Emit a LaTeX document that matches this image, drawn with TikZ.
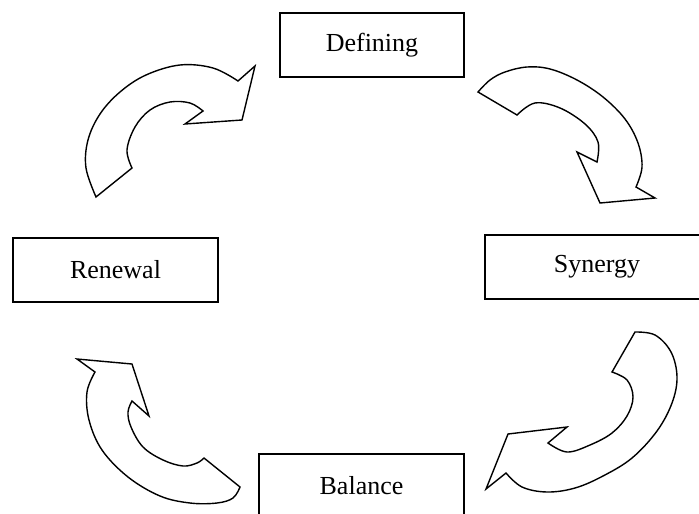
\documentclass[tikz,border=0pt]{standalone}
\usepackage{fontspec}
\setmainfont{Liberation Serif}
\usetikzlibrary{positioning}
\tikzset{
	stage/.style={draw, line width=1pt, inner sep=0pt, minimum height=32pt, font=\fontsize{13}{15}\selectfont},
	bentarrow/.style={draw, line width=0.7pt, line join=miter}
}
\begin{document}
\begin{tikzpicture}[x=0.5pt, y=-0.5pt]
		\clip (0,0) rectangle (699,513);
		
		% Stages of the cycle
		\node[stage, minimum width=92pt] (defining) at (372,45) {Defining};
		\node[stage, minimum width=112pt] (synergy) at (597,266.5) {Synergy};
		\node[stage, minimum width=102.5pt] (balance) at (361.5,486) {Balance};
		\node[stage, minimum width=102.5pt] (renewal) at (115.5,269.5) {Renewal};
		
		% Renewal to Defining
		\draw[bentarrow] plot[smooth, tension=0.6] coordinates {(96,197) (86,168) (88,140) (100,114) (120,92) (146,75) (180,65) (213,68) (238,81)}
			-- (255,66) -- (242,120) -- (185,124)
			-- plot[smooth, tension=0.6] coordinates {(203,111) (190,103) (170,102) (150,110) (135,127) (127,150) (132,168)} -- cycle;
		
		% Defining to Synergy
		\draw[bentarrow] plot[smooth, tension=0.6] coordinates {(478,92) (490,80) (505,72) (527,67) (550,69) (577,80) (603,97) (625,119) (638,143) (642,167) (636,187)}
			-- (655,198) -- (600,203) -- (577,152)
			-- plot[smooth, tension=0.6] coordinates {(597,162) (598,142) (585,124) (560,108) (535,103) (517,115)} -- cycle;
		
		% Synergy to Balance
		\draw[bentarrow] plot[smooth, tension=0.6] coordinates {(635,332) (655,335) (671,352) (677,377) (672,403) (657,431) (632,458) (603,476) (575,488) (547,492) (522,487) (506,473)}
			-- (486,489) -- (508,434) -- (567,427)
			-- plot[smooth, tension=0.6] coordinates {(548,443) (567,452) (590,445) (612,433) (627,416) (633,397) (627,380) (612,372)} -- cycle;
		
		% Balance to Renewal
		\draw[bentarrow] plot[smooth, tension=0.6] coordinates {(240,487) (233,498) (217,503) (190,503) (160,496) (128,477) (102,450) (89,420) (87,392) (95,372)}
			-- (77,359) -- (132,364) -- (149,416)
			-- plot[smooth, tension=0.6] coordinates {(132,401) (128,412) (131,427) (143,447) (163,460) (183,466) (197,463) (204,458)} -- cycle;
		
	\end{tikzpicture}
\end{document}
